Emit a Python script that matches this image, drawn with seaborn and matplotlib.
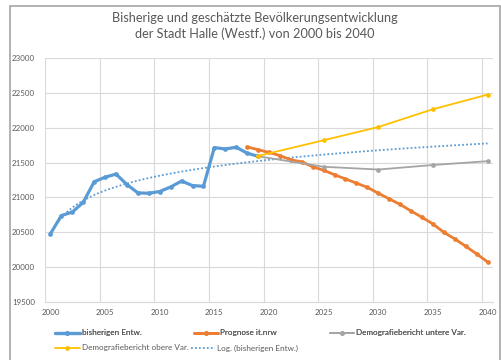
import numpy as np
import seaborn as sns
import matplotlib.pyplot as plt
from matplotlib.lines import Line2D
from matplotlib.patches import Rectangle

# population data
hist_years = [2000, 2001, 2002, 2003, 2004, 2005, 2006, 2007, 2008, 2009,
              2010, 2011, 2012, 2013, 2014, 2015, 2016, 2017, 2018, 2019]
hist_values = [20480, 20740, 20790, 20930, 21225, 21290, 21335, 21185, 21065, 21060,
               21085, 21150, 21235, 21170, 21160, 21715, 21695, 21720, 21635, 21590]

it_years = list(range(2018, 2041))
it_values = [21725, 21685, 21645, 21600, 21540, 21510, 21440, 21390, 21325, 21265,
             21205, 21145, 21060, 20980, 20900, 20805, 20715, 20620, 20500, 20405,
             20300, 20190, 20075]

low_years = [2019, 2025, 2030, 2035, 2040]
low_values = [21590, 21440, 21400, 21465, 21520]

high_years = [2019, 2025, 2030, 2035, 2040]
high_values = [21595, 21820, 22010, 22265, 22475]

tick_years = [2000, 2005, 2010, 2015, 2020, 2025, 2030, 2035, 2040]
y_ticks = [19500, 20000, 20500, 21000, 21500, 22000, 22500, 23000]

labels = ['bisherigen Entw.', 'Prognose it.nrw', 'Demografiebericht untere Var.',
          'Demografiebericht obere Var.', 'Log. (bisherigen Entw.)']
colors = ['#5B9BD5', '#ED7D31', '#A5A5A5', '#FFC000']

sns.set_style('white')
plt.rcParams['font.family'] = ['Lato', 'DejaVu Sans']

first = hist_years[0] - 1  # Excel category axis: positions 1..41


def pos(years):
    return [y - first for y in years]


fig = plt.figure(figsize=(5.02, 3.60), dpi=100)
ax = fig.add_axes([45 / 502, 1 - 302 / 360, 448 / 502, 244 / 360])

# logarithmic trend of the historical series (like Excel's trendline)
ax.set_xlim(1, 41)
sns.regplot(ax=ax, x=np.array(pos(hist_years)), y=np.array(hist_values), logx=True,
            truncate=False, scatter=False, ci=None,
            line_kws=dict(color=colors[0], lw=1.3, ls=(0, (1, 1.2)), zorder=2))

series = [(hist_years, hist_values, colors[0], 2.3),
          (it_years, it_values, colors[1], 2.0),
          (low_years, low_values, colors[2], 1.3),
          (high_years, high_values, colors[3], 1.3)]
for yrs, vals, col, lw in series:
    sns.lineplot(ax=ax, x=pos(yrs), y=vals, color=col, lw=lw, marker='o',
                 markersize=3.4, markeredgewidth=0, zorder=3)

ax.set_xlim(0.5, 41.5)
ax.set_ylim(19500, 23000)
ax.set_xticks(pos(tick_years))
ax.set_xticklabels([str(t) for t in tick_years])
ax.set_xticks([p - 0.5 for p in pos(range(2000, 2041, 5))], minor=True)
ax.set_yticks(y_ticks)
ax.set_yticklabels([str(t) for t in y_ticks])
ax.grid(axis='y', color='#d9d9d9', lw=0.8)
ax.grid(axis='x', which='minor', color='#d9d9d9', lw=0.8)
ax.tick_params(axis='both', which='both', length=0, labelsize=5.7, labelcolor='#595959')
ax.tick_params(axis='x', pad=5)
ax.tick_params(axis='y', pad=7)
ax.set_xlabel('')
ax.set_ylabel('')
for side in ['top', 'left', 'right']:
    ax.spines[side].set_visible(False)
ax.spines['bottom'].set_color('#d9d9d9')
ax.spines['bottom'].set_linewidth(0.8)

fig.text(255 / 502, 1 - 26 / 360,
         'Bisherige und geschätzte Bevölkerungsentwicklung\nder Stadt Halle (Westf.) von 2000 bis 2040',
         ha='center', va='center', fontsize=9.2, color='#595959', linespacing=1.3)

# legend, two rows like the Excel layout
handles = [Line2D([], [], color=c, lw=lw, marker='o', markersize=3.4, markeredgewidth=0)
           for c, lw in zip(colors, [2.3, 2.0, 1.3, 1.3])]
handles.append(Line2D([], [], color=colors[0], lw=1.3, ls=(0, (1, 1.2))))
leg_kw = dict(frameon=False, fontsize=5.9, handlelength=3.0, handletextpad=0.25,
              labelcolor='#595959', borderaxespad=0, borderpad=0)
leg1 = fig.legend(handles[:3], labels[:3], ncol=3, columnspacing=6.4,
                  loc='center left', bbox_to_anchor=(55 / 502, 1 - 333 / 360), **leg_kw)
fig.add_artist(leg1)
fig.legend(handles[3:], labels[3:], ncol=2, columnspacing=0.3,
           loc='center left', bbox_to_anchor=(55 / 502, 1 - 348 / 360), **leg_kw)

# outer chart frame
fig.add_artist(Rectangle((9.5 / 502, -0.1), 491 / 502, 1.1 - 6.5 / 360,
                         transform=fig.transFigure, fill=False,
                         edgecolor='#a6a6a6', lw=1.2))

fig.savefig('out.png', dpi=100)
